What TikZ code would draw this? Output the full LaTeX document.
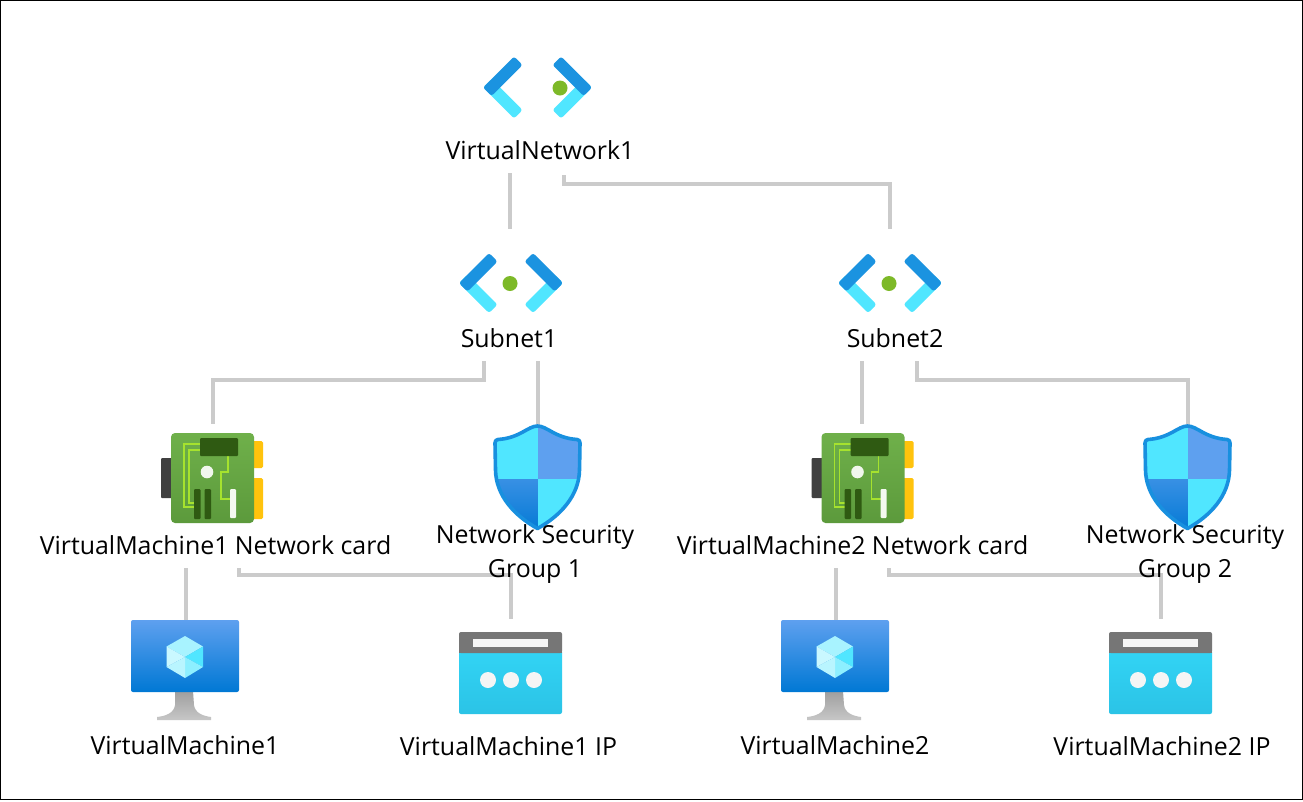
\documentclass[tikz,border=0pt]{standalone}
\usepackage{fontspec}
\setmainfont{Open Sans}
\usetikzlibrary{calc}
\definecolor{lnk}{HTML}{CBCBCB}
\definecolor{vblue}{HTML}{1B93E0}
\definecolor{vcyan}{HTML}{50E6FF}
\definecolor{vgreen}{HTML}{7DB928}
\definecolor{bblue}{HTML}{5EA0EF}
\definecolor{dblue}{HTML}{0078D4}
\definecolor{board}{HTML}{6FB04A}
\definecolor{boardd}{HTML}{5C9A3C}
\definecolor{chip}{HTML}{2F5A12}
\definecolor{trace}{HTML}{A6E22E}
\definecolor{yel}{HTML}{FFC30D}
\definecolor{gport}{HTML}{404040}
\definecolor{hdr}{HTML}{767676}
\definecolor{ipb}{HTML}{32D4F5}
\definecolor{ipd}{HTML}{2BC3E6}
\tikzset{
  x=1pt,y=-1pt,
  link/.style={draw=lnk,line width=3.2pt,line join=miter},
  lab/.style={font=\fontsize{24.9}{34}\selectfont,align=center,inner sep=0pt,text=black},
  arm/.style={rounded corners=2.5pt},
}
% centre x, centre y, half width, arm length, dot x
\newcommand{\vneticon}[5]{%
  \begin{scope}[shift={(#1,#2)}]
    \fill[vcyan,arm] (-#3,0) -- (-#3+#4,#4) -- (-#3+#4+8.5,#4-8.5) -- (-#3+8.5,-8.5) -- cycle;
    \fill[vcyan,arm] (#3,0) -- (#3-#4,#4) -- (#3-#4-8.5,#4-8.5) -- (#3-8.5,-8.5) -- cycle;
    \fill[vblue,arm] (-#3,0) -- (-#3+#4,-#4) -- (-#3+#4+8.5,-#4+8.5) -- (-#3+8.5,8.5) -- cycle;
    \fill[vblue,arm] (#3,0) -- (#3-#4,-#4) -- (#3-#4-8.5,-#4+8.5) -- (#3-8.5,8.5) -- cycle;
    \fill[vgreen] (#5,0.5) circle (7.5);
  \end{scope}}
\newcommand{\nicicon}[1]{%
  \begin{scope}[shift={(#1,0)}]
    \fill[gport,rounded corners=1pt] (161,458) rectangle (172,498);
    \fill[yel,rounded corners=1.5pt] (250,441) rectangle (263,468);
    \fill[yel,rounded corners=1.5pt] (250,478) rectangle (263,519);
    \shade[top color=board,bottom color=boardd,rounded corners=4pt] (171,433) rectangle (254,523);
    \draw[trace,line width=1.7pt] (200,444) -- (184,444) -- (184,507) -- (194,507);
    \draw[trace,line width=1.7pt] (200,450) -- (189,450) -- (189,503) -- (194,503);
    \draw[trace,line width=1.7pt] (228,456) -- (228,472) -- (221,472) -- (221,499) -- (231,499);
    \fill[chip,rounded corners=1pt] (200,438) rectangle (238,456);
    \fill[white!90!board] (207,472) circle (6.3);
    \fill[chip,rounded corners=1pt] (194,489) rectangle (200.5,519);
    \fill[chip,rounded corners=1pt] (204.5,489) rectangle (211,519);
    \fill[white!92!board,rounded corners=1pt] (230,489) rectangle (236,518);
  \end{scope}}
\newcommand{\shieldshape}{(537.5,426) .. controls (528,426) and (520,438) .. (498,439.5)
    .. controls (496,439.7) and (495,441) .. (495,443)
    -- (495.5,470) .. controls (496,496) and (515,516) .. (537.5,528.5)
    .. controls (560,516) and (579,496) .. (579.5,470) -- (580,443)
    .. controls (580,441) and (579,439.7) .. (577,439.5)
    .. controls (555,438) and (547,426) .. (537.5,426) -- cycle}
\newcommand{\shieldicon}[1]{%
  \begin{scope}[shift={(#1,0)}]
    \begin{scope}
      \clip \shieldshape;
      \fill[vcyan] (485,415) rectangle (538,479);
      \fill[bblue] (538,415) rectangle (590,479);
      \shade[top color=bblue!60!dblue,bottom color=dblue] (485,479) rectangle (538,535);
      \fill[vcyan] (538,479) rectangle (590,535);
    \end{scope}
    \draw[color=vblue!90!dblue,line width=3.6pt,line join=round] \shieldshape;
  \end{scope}}
\newcommand{\vmicon}[1]{%
  \begin{scope}[shift={(#1,0)}]
    \shade[top color=white!62!black,bottom color=white!78!black] (175,691) -- (193,691) -- (194,705) .. controls (195,713) and (203,716) .. (211,717) -- (211,720) -- (157,720) -- (157,717) .. controls (166,716) and (174,713) .. (175,705) -- cycle;
    \shade[top color=bblue,bottom color=dblue,rounded corners=2pt] (131,620) rectangle (239,692);
    \fill[vcyan!50!white] (185,636) -- (203,646.5) -- (185,657) -- (166.5,646.5) -- cycle;
    \fill[vcyan] (203,646.5) -- (203,667) -- (185,657) -- cycle;
    \fill[vcyan!30!white] (166.5,646.5) -- (185,657) -- (166.5,667) -- cycle;
    \fill[vcyan!65!white] (185,657) -- (203,667) -- (185,678) -- cycle;
    \fill[vcyan!40!white] (185,657) -- (185,678) -- (166.5,667) -- cycle;
  \end{scope}}
\newcommand{\ipicon}[1]{%
  \begin{scope}[shift={(#1,0)}]
    \shade[top color=ipb,bottom color=ipd,rounded corners=2pt] (459,650) rectangle (562,714);
    \fill[hdr,rounded corners=2pt] (459,632) rectangle (562,653);
    \fill[hdr] (459,645) rectangle (562,653);
    \fill[white!96!black] (473,639) rectangle (548,647);
    \fill[white!96!black] (488,680) circle (8) (511,680) circle (8) (534,680) circle (8);
  \end{scope}}
\begin{document}
\begin{tikzpicture}
\useasboundingbox (0,0) rectangle (1303,801);
\fill[white] (0,0) rectangle (1303,801);
\draw[black,line width=1.2pt] (0.6,0.6) rectangle (1302.4,799.6);
% free ends of connectors
\foreach \n/\x/\y in {a1/510/173,a2/510/229,b1/564/175,b2/890/229,
  c1/484/361,c2/213/424,d1/538/361,d2/538/425,
  e1/862/361,e2/862/424,f1/917/361,f2/1188/425,
  g1/186/568,g2/186/620,h1/239/568,h2/511/619,
  i1/836/568,i2/836/620,j1/889/568,j2/1161/619}
  {\coordinate (\n) at (\x,\y);}
\path[link] (a1) -- (a2);
\path[link] (b1) -- (b1 |- 0,184) -- (b2 |- 0,184) -- (b2);
\path[link] (c1) -- (c1 |- 0,380) -- (c2 |- 0,380) -- (c2);
\path[link] (d1) -- (d2);
\path[link] (e1) -- (e2);
\path[link] (f1) -- (f1 |- 0,380) -- (f2 |- 0,380) -- (f2);
\path[link] (g1) -- (g2);
\path[link] (h1) -- (h1 |- 0,575) -- (h2 |- 0,575) -- (h2);
\path[link] (i1) -- (i2);
\path[link] (j1) -- (j1 |- 0,575) -- (j2 |- 0,575) -- (j2);
% icons
\vneticon{537.5}{87.5}{54.5}{31}{22.5}
\vneticon{511}{283}{52}{30}{-1}
\vneticon{890}{283}{52}{30}{-1}
\nicicon{0}\nicicon{650.5}
\shieldicon{0}\shieldicon{650}
\vmicon{0}\vmicon{650}
\ipicon{0}\ipicon{650}
% labels
\node[lab] (vnet) at (540,150) {VirtualNetwork1};
\node[lab] (s1) at (509,338) {Subnet1};
\node[lab] (s2) at (895,338) {Subnet2};
\node[lab] (n1) at (215.5,545) {VirtualMachine1 Network card};
\node[lab] (n2) at (852.5,545) {VirtualMachine2 Network card};
\node[lab] (g1l) at (535,554) {Network Security\\Group 1};
\node[lab] (g2l) at (1185,554) {Network Security\\Group 2};
\node[lab] (v1) at (185,745.5) {VirtualMachine1};
\node[lab] (v2) at (835,745.5) {VirtualMachine2};
\node[lab] (ip1) at (508.5,746) {VirtualMachine1 IP};
\node[lab] (ip2) at (1162,746) {VirtualMachine2 IP};
\end{tikzpicture}
\end{document}
